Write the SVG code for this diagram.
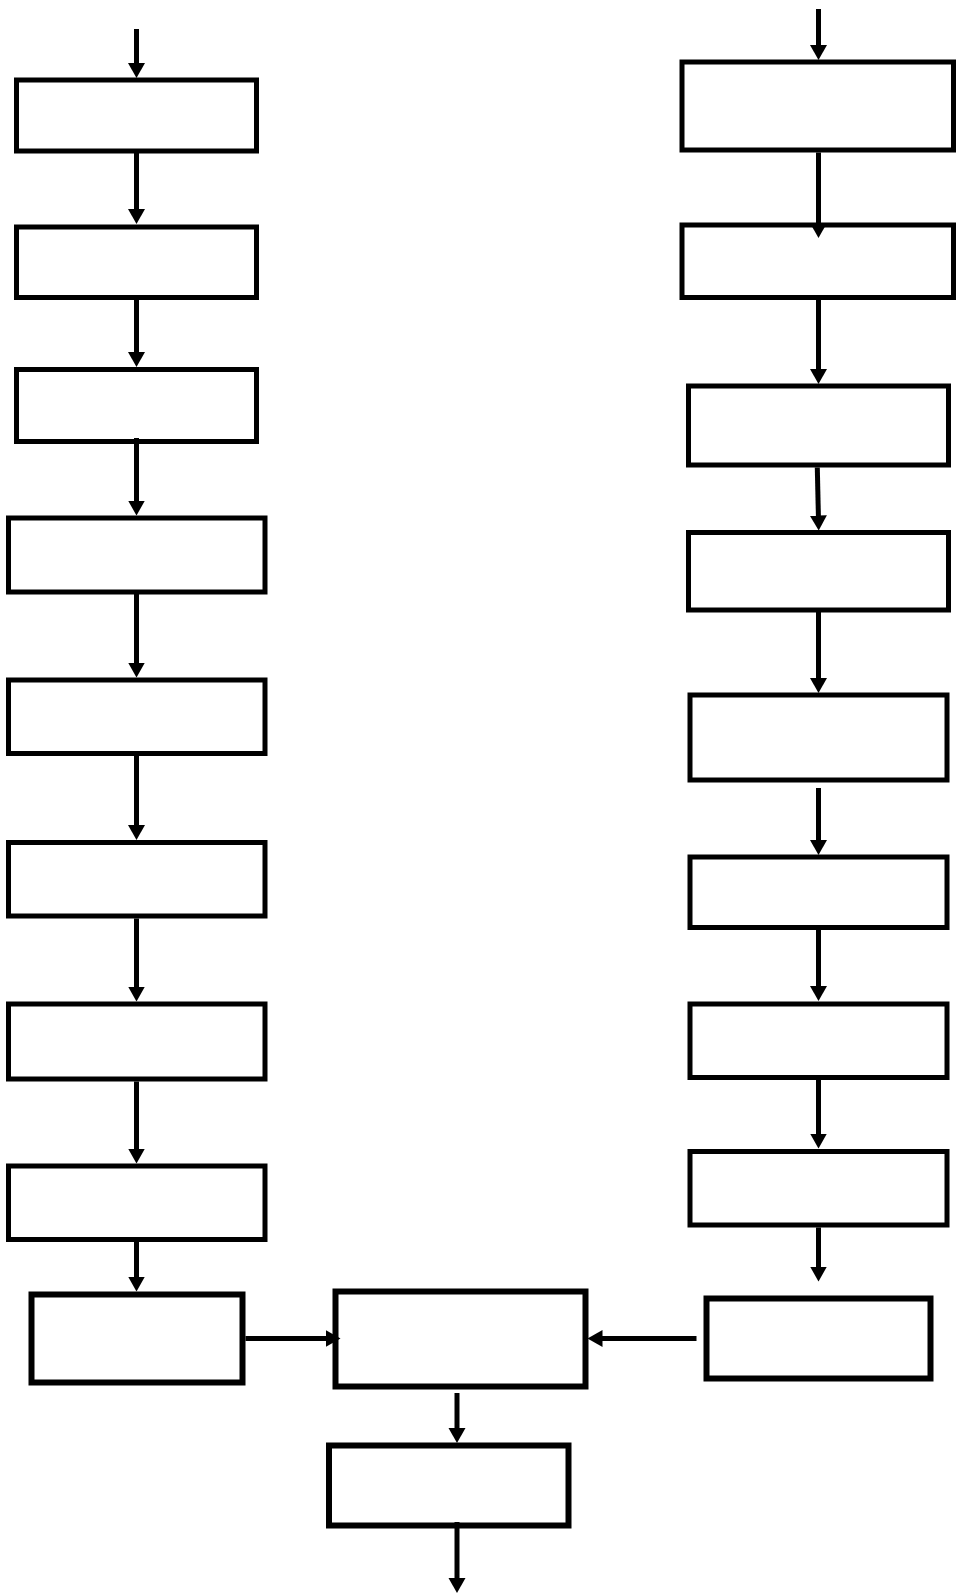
<svg xmlns="http://www.w3.org/2000/svg" width="956" height="1596" viewBox="0 0 956 1596">
<style>
.box{fill:#fff;stroke:#000;stroke-width:5}
.box6{fill:#fff;stroke:#000;stroke-width:6}
.edge{fill:none;stroke:#000;stroke-width:5;marker-end:url(#ah)}
</style>
<defs>
<marker id="ah" markerUnits="userSpaceOnUse" markerWidth="16" markerHeight="18" refX="5" refY="9" orient="auto">
<path d="M0,0.5 L15,9 L0,17.5 z" fill="#000"/>
</marker>
</defs>
<rect width="956" height="1596" fill="#fff"/>
<g id="nodes">
<g id="L1"><rect class="box" x="16.5" y="80" width="240" height="71"/></g>
<g id="L2"><rect class="box" x="16.5" y="227" width="240" height="70.5"/></g>
<g id="L3"><rect class="box" x="16.5" y="369.5" width="240" height="72"/></g>
<g id="L4"><rect class="box" x="8.5" y="518" width="256.5" height="74"/></g>
<g id="L5"><rect class="box" x="8.5" y="680" width="256.5" height="73.5"/></g>
<g id="L6"><rect class="box" x="8.5" y="842.5" width="256.5" height="73.5"/></g>
<g id="L7"><rect class="box" x="8.5" y="1004" width="256.5" height="75"/></g>
<g id="L8"><rect class="box" x="8.5" y="1166" width="256.5" height="73.5"/></g>
<g id="L9"><rect class="box6" x="31.5" y="1294.5" width="211" height="88"/></g>
<g id="R1"><rect class="box" x="682" y="62" width="271.5" height="88"/></g>
<g id="R2"><rect class="box" x="682" y="225" width="271.5" height="72.5"/></g>
<g id="R3"><rect class="box" x="688.5" y="386" width="260" height="79"/></g>
<g id="R4"><rect class="box" x="688.5" y="532.5" width="260" height="77.5"/></g>
<g id="R5"><rect class="box" x="690" y="695" width="257" height="85"/></g>
<g id="R6"><rect class="box" x="690" y="857" width="257" height="70.5"/></g>
<g id="R7"><rect class="box" x="690" y="1004" width="257" height="73.5"/></g>
<g id="R8"><rect class="box" x="690" y="1151.5" width="257" height="73.5"/></g>
<g id="R9"><rect class="box6" x="706.5" y="1298.5" width="224" height="80"/></g>
<g id="C"><rect class="box6" x="335.5" y="1291.5" width="250" height="95"/></g>
<g id="B"><rect class="box6" x="329" y="1445.5" width="239.5" height="80"/></g>
</g>
<g id="connectors">
<line class="edge" x1="136.5" y1="29" x2="136.5" y2="68"/>
<line class="edge" x1="136.5" y1="153" x2="136.5" y2="214"/>
<line class="edge" x1="136.5" y1="300" x2="136.5" y2="357"/>
<line class="edge" x1="136.5" y1="438" x2="136.5" y2="505.5"/>
<line class="edge" x1="136.5" y1="594" x2="136.5" y2="667.5"/>
<line class="edge" x1="136.5" y1="756" x2="136.5" y2="830"/>
<line class="edge" x1="136.5" y1="918.5" x2="136.5" y2="991.5"/>
<line class="edge" x1="136.5" y1="1081.5" x2="136.5" y2="1153.5"/>
<line class="edge" x1="136.5" y1="1241.5" x2="136.5" y2="1281.5"/>
<line class="edge" x1="245.5" y1="1338.5" x2="330.5" y2="1338.5"/>
<line class="edge" x1="818.5" y1="9" x2="818.5" y2="50"/>
<line class="edge" x1="818.5" y1="152.5" x2="818.5" y2="228"/>
<line class="edge" x1="818.5" y1="300" x2="818.5" y2="374"/>
<line class="edge" x1="817.3" y1="467.5" x2="818.5" y2="520.5"/>
<line class="edge" x1="818.5" y1="612" x2="818.5" y2="683"/>
<line class="edge" x1="818.5" y1="788" x2="818.5" y2="845"/>
<line class="edge" x1="818.5" y1="930" x2="818.5" y2="991"/>
<line class="edge" x1="818.5" y1="1080" x2="818.5" y2="1138.5"/>
<line class="edge" x1="818.5" y1="1227.5" x2="818.5" y2="1271.5"/>
<line class="edge" x1="696.5" y1="1338.5" x2="597.5" y2="1338.5"/>
<line class="edge" x1="457" y1="1393" x2="457" y2="1433"/>
<line class="edge" x1="457" y1="1522" x2="457" y2="1583"/>
</g>
</svg>
